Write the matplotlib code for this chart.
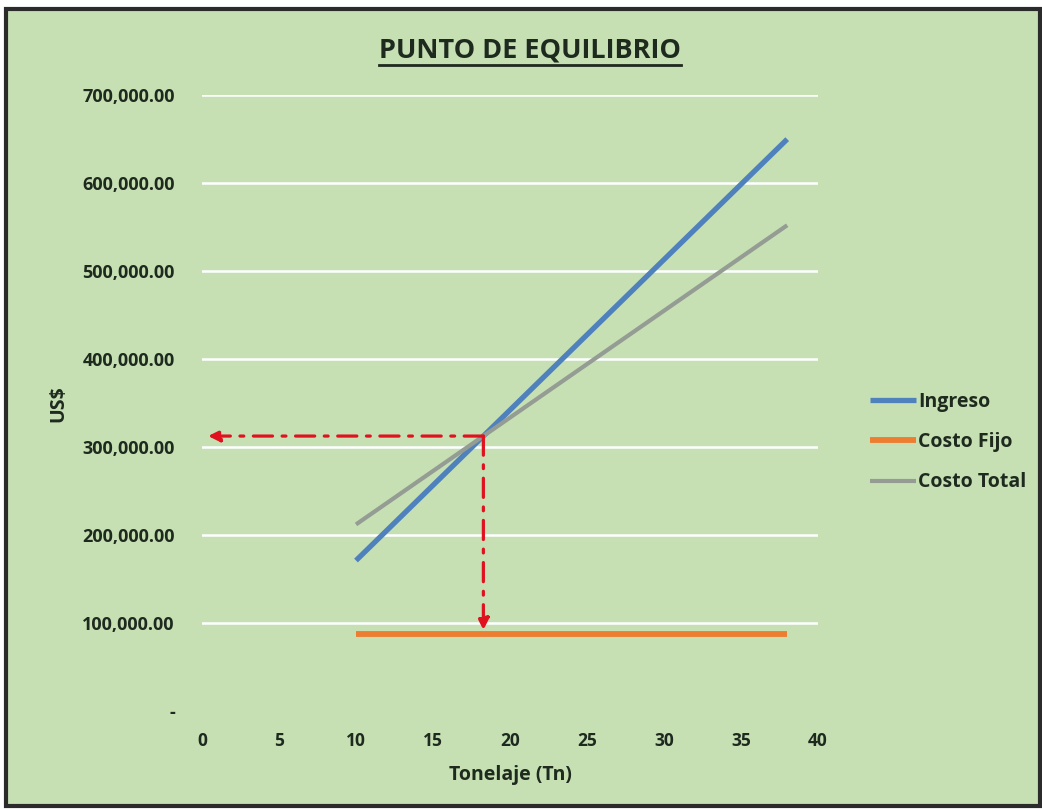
import matplotlib
matplotlib.use("Agg")
import matplotlib.pyplot as plt
from matplotlib.patches import Rectangle
from matplotlib.lines import Line2D
from matplotlib.ticker import FuncFormatter

# Data
tonelaje = [10, 38]
ingreso = [171000, 649800]
costo_fijo = [88000, 88000]
costo_total = [212000, 552000]

x_ticks = [0, 5, 10, 15, 20, 25, 30, 35, 40]
y_ticks = [0, 100000, 200000, 300000, 400000, 500000, 600000, 700000]

# Breakeven point: where Ingreso meets Costo Total
s_i = (ingreso[1] - ingreso[0]) / (tonelaje[1] - tonelaje[0])
s_t = (costo_total[1] - costo_total[0]) / (tonelaje[1] - tonelaje[0])
x_eq = tonelaje[0] + (costo_total[0] - ingreso[0]) / (s_i - s_t)
y_eq = ingreso[0] + s_i * (x_eq - tonelaje[0])

BG = "#c6e0b4"
FONT = ["Open Sans", "DejaVu Sans"]
TXT = "#1e2a1e"

W, H = 1042, 809
fig = plt.figure(figsize=(W / 100, H / 100), dpi=100, facecolor="white")

# chart frame
fig.patches.append(Rectangle((6 / W, 1 - 806 / H), 1034 / W, 797 / H,
                             transform=fig.transFigure, facecolor=BG,
                             edgecolor="#2b2b2b", linewidth=3, zorder=-5))

ax = fig.add_axes([202 / W, 1 - 711 / H, 616 / W, 616 / H])
ax.set_facecolor("none")
ax.set_xlim(0, 40)
ax.set_ylim(0, 700000)
for s in ax.spines.values():
    s.set_visible(False)

ax.set_yticks(y_ticks)
ax.set_xticks(x_ticks)
ax.yaxis.set_major_formatter(FuncFormatter(lambda v, p: "-" if v == 0 else f"{v:,.2f}"))
ax.tick_params(length=0, labelsize=12.5, labelcolor=TXT, labelfontfamily="Open Sans")
ax.tick_params(axis="y", labelsize=13, pad=19.5)
ax.tick_params(axis="x", pad=15)
for lab in ax.get_xticklabels() + ax.get_yticklabels():
    lab.set_fontweight("bold")

ax.grid(axis="y", color="white", linewidth=1.8)
ax.yaxis.get_gridlines()[0].set_visible(False)
ax.set_axisbelow(True)

ax.plot(tonelaje, ingreso, color="#4f81bd", linewidth=3.8, label="Ingreso", solid_capstyle="butt", zorder=3)
ax.plot(tonelaje, costo_fijo, color="#ed7d31", linewidth=4.2, label="Costo Fijo", solid_capstyle="butt", zorder=3)
ax.plot(tonelaje, costo_total, color="#949c94", linewidth=3, label="Costo Total", solid_capstyle="butt", zorder=3)

# breakeven guide arrows
arrow_kw = dict(arrowstyle="-|>", color="#e0121f", linewidth=2.3,
                linestyle=(0, (6, 3, 1.2, 3)),
                mutation_scale=17, shrinkA=0, shrinkB=0)
ax.annotate("", xy=(0.4, y_eq), xytext=(x_eq, y_eq), arrowprops=arrow_kw, zorder=4)
ax.annotate("", xy=(x_eq, 92000), xytext=(x_eq, y_eq), arrowprops=arrow_kw, zorder=4)

ax.set_xlabel("Tonelaje (Tn)", fontsize=14, fontweight="bold", family=FONT, color=TXT, labelpad=11)
fig.text(58 / W, 1 - 404 / H, "US$", rotation=90, ha="center", va="center",
         fontsize=14, fontweight="bold", family=FONT, color=TXT)

leg = ax.legend(loc="center left", bbox_to_anchor=(852 / W, 1 - 442 / H),
                bbox_transform=fig.transFigure, frameon=False,
                prop={"family": FONT, "weight": "bold", "size": 14},
                handlelength=2.4, handletextpad=0.1, labelspacing=1.05)
for t in leg.get_texts():
    t.set_color(TXT)

title = fig.text(530 / W, 1 - 50 / H, "PUNTO DE EQUILIBRIO", ha="center", va="center",
                 fontsize=19.5, fontweight="bold", family=FONT, color=TXT)
fig.canvas.draw()
bb = title.get_window_extent().transformed(fig.transFigure.inverted())
fig.add_artist(Line2D([bb.x0, bb.x1], [bb.y0 - 0.002, bb.y0 - 0.002],
                      transform=fig.transFigure, color=TXT, linewidth=2))

fig.savefig("out.png", dpi=100, facecolor="white")
